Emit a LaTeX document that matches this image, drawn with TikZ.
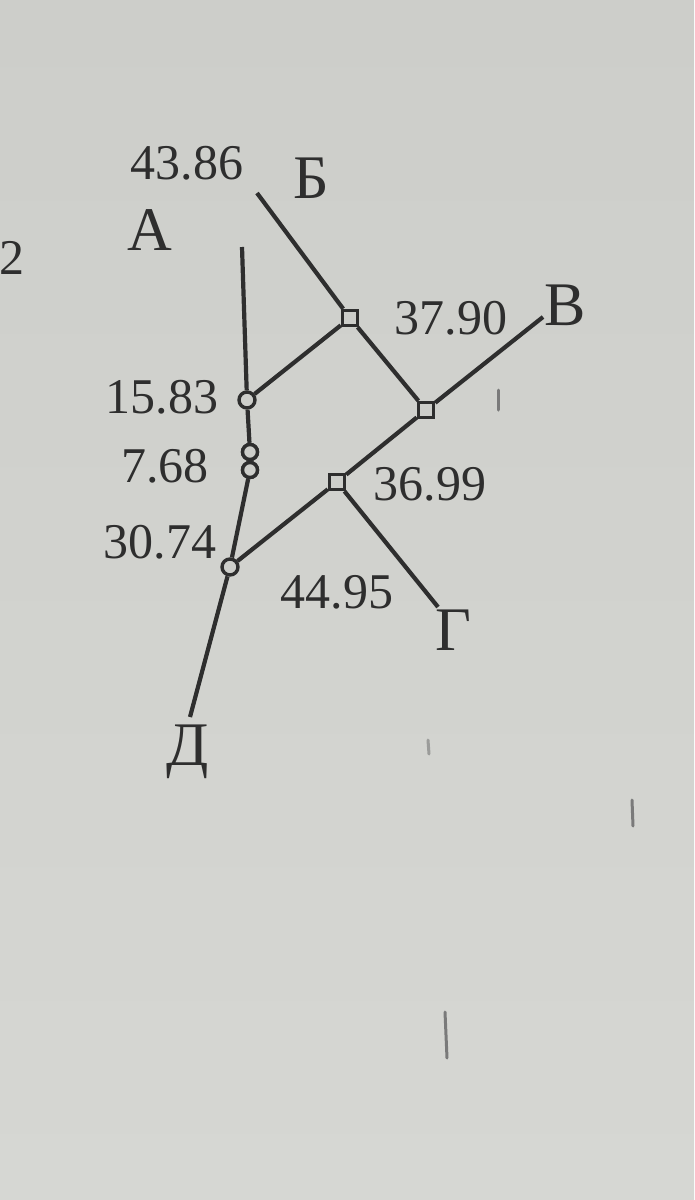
\documentclass[tikz,border=0pt]{standalone}
\usepackage{fontspec}
\setmainfont{Liberation Serif}
\definecolor{paper}{HTML}{CDCECA}
\definecolor{paperlow}{HTML}{D6D7D3}
\definecolor{ink}{HTML}{2E2E2E}
\definecolor{mark}{HTML}{7A7A7A}
\begin{document}
\begin{tikzpicture}[x=1pt,y=-1pt,
  wire/.style={draw=ink,line width=4.2pt},
  ring/.style={circle,draw=ink,fill=paper,line width=3.4pt,inner sep=0pt,minimum size=16pt},
  smallring/.style={circle,draw=ink,fill=paper,line width=3.4pt,inner sep=0pt,minimum size=15pt},
  box/.style={rectangle,draw=ink,fill=paper,line width=3.4pt,inner sep=0pt,minimum size=15pt},
  num/.style={text=ink,inner sep=0pt,font=\fontsize{50}{50}\selectfont},
  letter/.style={text=ink,inner sep=0pt,font=\fontsize{62}{62}\selectfont},
  stray/.style={draw=mark,line width=3pt,line cap=round}]
\useasboundingbox (0,0) rectangle (694,1200);
\shade[top color=paper,bottom color=paperlow] (0,0) rectangle (694,1200);
% stray marks
\coordinate (m1a) at (498,390); \coordinate (m1b) at (498,410);
\coordinate (m2a) at (632,800); \coordinate (m2b) at (633,826);
\coordinate (m3a) at (445,1012); \coordinate (m3b) at (447,1058);
\coordinate (m4a) at (428,740); \coordinate (m4b) at (429,754);
\draw[stray] (m1a) -- (m1b);
\draw[stray] (m2a) -- (m2b);
\draw[stray] (m3a) -- (m3b);
\draw[stray,draw=mark!60!paper] (m4a) -- (m4b);
% end points
\coordinate (pA) at (242,247);
\coordinate (pB) at (257,193);
\coordinate (pV) at (543,317);
\coordinate (pG) at (438,607);
\coordinate (pD) at (190,717);
% junctions
\node[ring] (c1) at (247,400) {};
\node[smallring] (o1) at (250,452) {};
\node[smallring] (o2) at (250,470) {};
\node[ring] (c3) at (230,567) {};
\node[box] (s1) at (350,318) {};
\node[box] (s2) at (426,410) {};
\node[box] (s3) at (337,482) {};
% connectors
\draw[wire] (pA) -- (c1);
\draw[wire] (c1) -- (o1);
\draw[wire] (o2) -- (c3);
\draw[wire] (c1) -- (s1);
\draw[wire] (pB) -- (s1);
\draw[wire] (s1) -- (s2);
\draw[wire] (s2) -- (pV);
\draw[wire] (s2) -- (s3);
\draw[wire] (s3) -- (c3);
\draw[wire] (s3) -- (pG);
\draw[wire] (c3) -- (pD);
\node[smallring] at (o1) {};
\node[smallring] at (o2) {};
% labels
\node[num] (l1) at (187,163) {43.86};
\node[num] (l2) at (451,318) {37.90};
\node[num] (l3) at (162,397) {15.83};
\node[num] (l4) at (165,466) {7.68};
\node[num] (l5) at (430,484) {36.99};
\node[num] (l6) at (160,542) {30.74};
\node[num] (l7) at (337,592) {44.95};
\node[letter] (tA) at (150,230) {А};
\node[letter] (tB) at (311,178) {Б};
\node[letter] (tV) at (565,305) {В};
\node[letter] (tG) at (453,630) {Г};
\node[letter] (tD) at (188,752) {Д};
\node[num,anchor=east] (two) at (25,258) {2};
\end{tikzpicture}
\end{document}
